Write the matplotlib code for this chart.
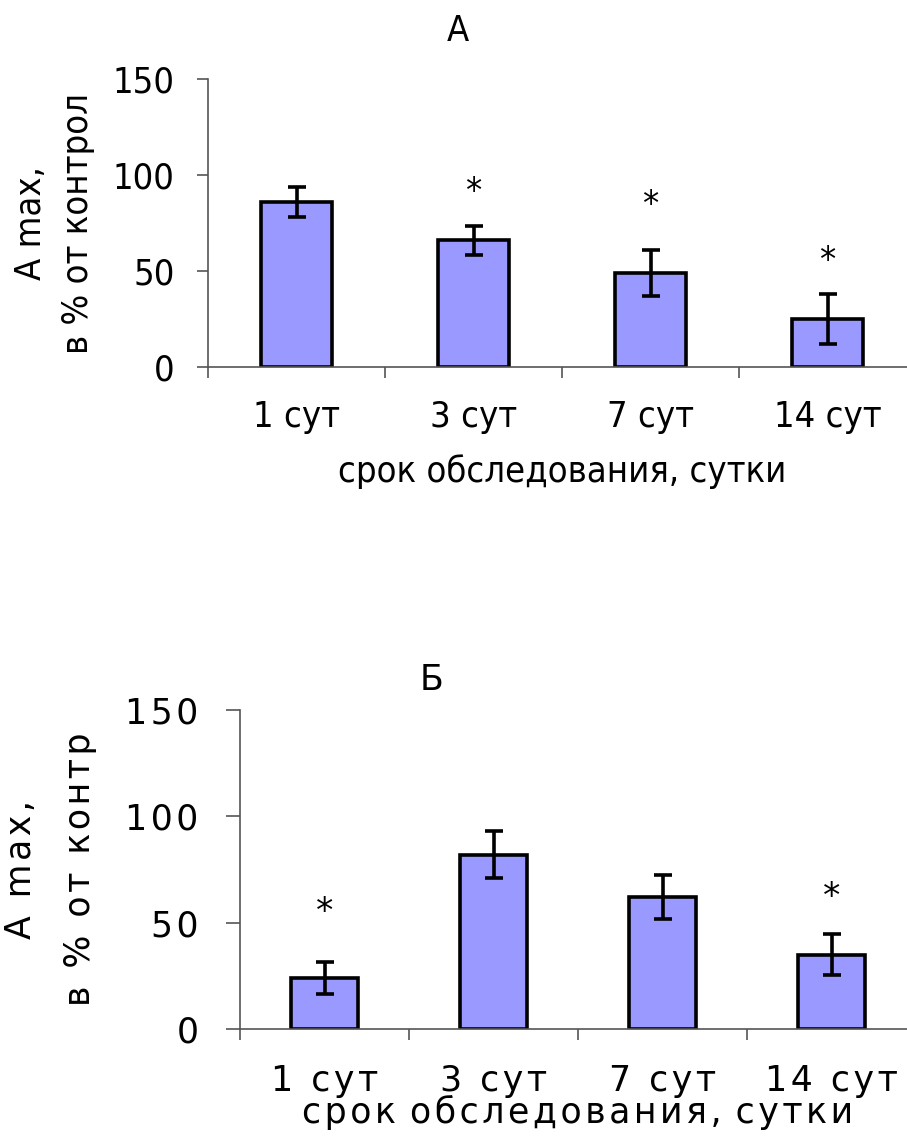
import numpy as np
import matplotlib.pyplot as plt

# Data
days = ["1 сут", "3 сут", "7 сут", "14 сут"]

a_mean = [86, 66, 49, 25]
a_err = [8, 7.5, 12, 13]
a_star = [None, 95, 88, 59]

b_mean = [24, 82, 62, 35]
b_err = [7.5, 11, 10.5, 9.5]
b_star = [58, None, None, 65]

yticks = [0, 50, 100, 150]

BAR = "#9999ff"


def spaced(s, sep="\u200a", word=" "):
    # letter-spaced text as in the lower panel
    return sep.join(s.replace(" ", word))


def panel(ax, mean, err, star, wide, ylab2, fs):
    x = np.arange(len(mean))
    fp = dict(family="DejaVu Sans", fontsize=fs,
              stretch="normal" if wide else "condensed")
    fmt = spaced if wide else (lambda s, **kw: s)
    ax.bar(x, mean, width=0.4, color=BAR, edgecolor="black", linewidth=2.6)
    ax.errorbar(x, mean, yerr=err, fmt="none", ecolor="black",
                elinewidth=2.6, capsize=6.5, capthick=2.6)
    for xi, s in zip(x, star):
        if s is not None:
            ax.annotate("*", (xi, s), xytext=(0, -0.48 * fs),
                        textcoords="offset points", ha="center",
                        va="baseline", **fp)
    ax.set_xlim(-0.5, 3.5)
    ax.set_ylim(0, 150)
    for sp in ["top", "right"]:
        ax.spines[sp].set_visible(False)
    for sp in ["left", "bottom"]:
        ax.spines[sp].set_color("#555555")
        ax.spines[sp].set_linewidth(1.2)
    # major ticks at category boundaries, labels at centres
    ax.set_xticks(np.arange(-0.5, 3.0, 1.0))
    ax.set_xticklabels([])
    ax.set_xticks(x, minor=True)
    ax.set_xticklabels([fmt(d) for d in days], minor=True, **fp)
    ax.tick_params(axis="x", which="major", direction="out", length=8,
                   width=1.2, color="#555555")
    ax.tick_params(axis="x", which="minor", length=0, pad=24 if not wide else 25)
    ax.set_yticks(yticks)
    ax.set_yticklabels([fmt(str(t)) for t in yticks], **fp)
    ax.tick_params(axis="y", direction="out", length=8 if not wide else 10,
                   width=1.2, color="#555555", pad=16 if not wide else 20)
    ax.set_xlabel(fmt("срок обследования, сутки", word="\u2009"),
                  labelpad=14 if not wide else -2, **fp)
    ax.set_ylabel(fmt("А max,") + "\n" + fmt(ylab2),
                  labelpad=13 if not wide else 20,
                  linespacing=1.45 if not wide else 1.95, **fp)


fig = plt.figure(figsize=(9.07, 11.38), dpi=100)
ax1 = fig.add_axes([208 / 907, 1 - 367 / 1138, 708 / 907, 288 / 1138])
ax2 = fig.add_axes([240 / 907, 1 - 1029 / 1138, 676 / 907, 319 / 1138])

panel(ax1, a_mean, a_err, a_star, False, "в % от контрол", 26)
panel(ax2, b_mean, b_err, b_star, True, "в % от контр", 25)

fig.text(458 / 907, 1 - 31 / 1138, "А", ha="center", va="center",
         family="DejaVu Sans", stretch="condensed", fontsize=26)
fig.text(432 / 907, 1 - 680 / 1138, "Б", ha="center", va="center",
         family="DejaVu Sans", fontsize=25)

fig.savefig("out.png", dpi=100)
